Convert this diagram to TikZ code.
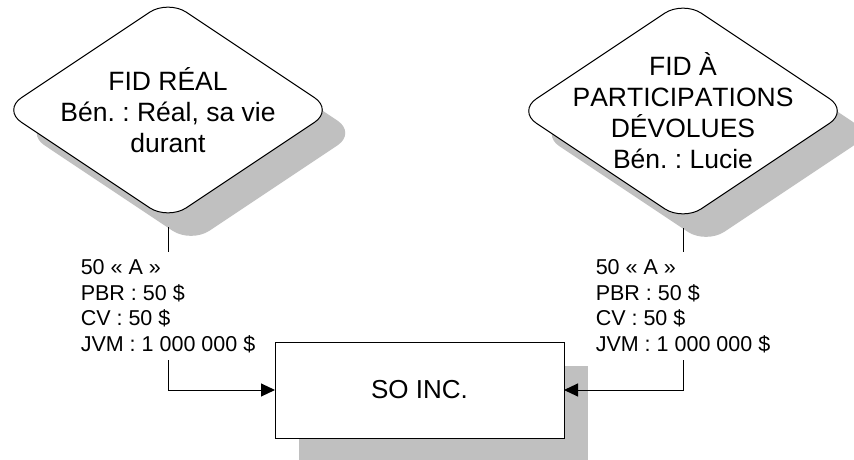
\documentclass[tikz,border=0pt]{standalone}
\usepackage{fontspec}
\setmainfont{Liberation Sans}[Kerning = Off]
\usepackage{tikz}
\usetikzlibrary{shapes.geometric,shadows,arrows.meta}
\definecolor{shadowgrey}{RGB}{192,192,192}
\frenchspacing

\begin{document}
\begin{tikzpicture}[x = 1pt, y = -1pt, line width = 1pt,
    fid/.style = {diamond, draw, fill = white, rounded corners = 22pt,
      minimum width = 330pt, minimum height = 220pt, inner sep = 0pt, outer sep = 0pt,
      drop shadow = {shadow xshift = 23pt, shadow yshift = -23pt, fill = shadowgrey, opacity = 1}},
    fidname/.style = {align = center, font = \fontsize{26.5}{31}\selectfont},
    parts/.style = {align = left, anchor = north, inner xsep = 0pt, inner ysep = 7pt,
      font = \fontsize{21.5}{25.5}\selectfont},
    corp/.style = {rectangle, draw, fill = white, minimum width = 289pt, minimum height = 96pt,
      inner sep = 0pt, outer sep = 0pt, font = \fontsize{26}{31}\selectfont,
      drop shadow = {shadow xshift = 24pt, shadow yshift = -24pt, fill = shadowgrey, opacity = 1}},
    flow/.style = {-{Triangle[length = 14pt, width = 13pt]}}]
      \useasboundingbox (0, 0) rectangle (854, 460);
      % the two trusts
      \node [fid] (real) at (168, 110) {};
      \node [fidname] (realname) at (real.center) {FID RÉAL\\Bén. : Réal, sa vie\\durant};
      \node [fid] (devol) at (683, 111) {};
      \node [fidname] (devolname) at (devol.center) {FID À\\PARTICIPATIONS\\DÉVOLUES\\Bén. : Lucie};
      % the company
      \node [corp] (soinc) at (419.5, 390) {SO INC.};
      % shares held by each trust
      \node [parts] (realparts) at (168, 252) {50 « A »\\PBR : 50 \$\\CV : 50 \$\\JVM : 1 000 000 \$};
      \node [parts] (devolparts) at (683, 252) {50 « A »\\PBR : 50 \$\\CV : 50 \$\\JVM : 1 000 000 \$};
      \draw [shorten <= 7pt] (real.south) -- (real.south |- realparts.north);
      \draw [shorten <= 7pt] (devol.south) -- (devol.south |- devolparts.north);
      \draw [flow] (realparts.south) |- (soinc.west);
      \draw [flow] (devolparts.south) |- (soinc.east);
    \end{tikzpicture}
\end{document}
